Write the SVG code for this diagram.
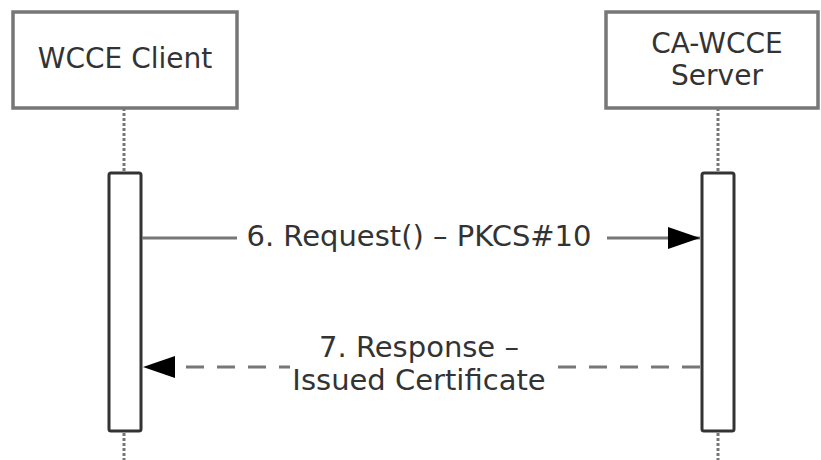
<svg xmlns="http://www.w3.org/2000/svg" width="821" height="460" viewBox="0 0 821 460">
<defs>
<style>
.box{fill:#fff;stroke:#777;stroke-width:3.5}
.bar{fill:#fff;stroke:#333;stroke-width:3}
.life{stroke:#777;stroke-width:3;stroke-dasharray:3 2;fill:none}
.t{font-family:"DejaVu Sans",Verdana,sans-serif;font-size:28px;fill:#333;text-anchor:middle}
.m{font-size:29px}
.msg{stroke:#777;stroke-width:3;fill:none}
.dash{stroke-dasharray:18 13}
.bg{fill:#fff}
</style>
<marker id="ah" markerWidth="32" markerHeight="22" refX="32" refY="11" orient="auto" markerUnits="userSpaceOnUse">
<path d="M0,0 L32,11 L0,22 Z" fill="#000"/>
</marker>
</defs>
<rect width="821" height="460" fill="#fff"/>
<g id="client">
<line class="life" x1="124" y1="108" x2="124" y2="460"/>
<rect class="box" x="13" y="12" width="224" height="96"/>
<text class="t" x="125" y="68">WCCE Client</text>
<rect class="bar" x="109" y="173" width="32" height="258" rx="2"/>
</g>
<g id="server">
<line class="life" x1="718" y1="108" x2="718" y2="460"/>
<rect class="box" x="606" y="12" width="212" height="96"/>
<text class="t" x="717" y="53">CA-WCCE</text>
<text class="t" x="717" y="85">Server</text>
<rect class="bar" x="702" y="173" width="32" height="258" rx="2"/>
</g>
<g id="connectors">
<line class="msg" x1="142" y1="238" x2="700" y2="238" marker-end="url(#ah)"/>
<rect class="bg" x="237" y="218" width="370" height="36"/>
<text class="t m" x="419" y="246">6. Request() – PKCS#10</text>
<line class="msg dash" x1="700" y1="367" x2="143" y2="367" marker-end="url(#ah)"/>
<rect class="bg" x="290" y="330" width="267" height="66"/>
<text class="t m" x="419" y="357">7. Response –</text>
<text class="t m" x="419" y="390">Issued Certificate</text>
</g>
</svg>
